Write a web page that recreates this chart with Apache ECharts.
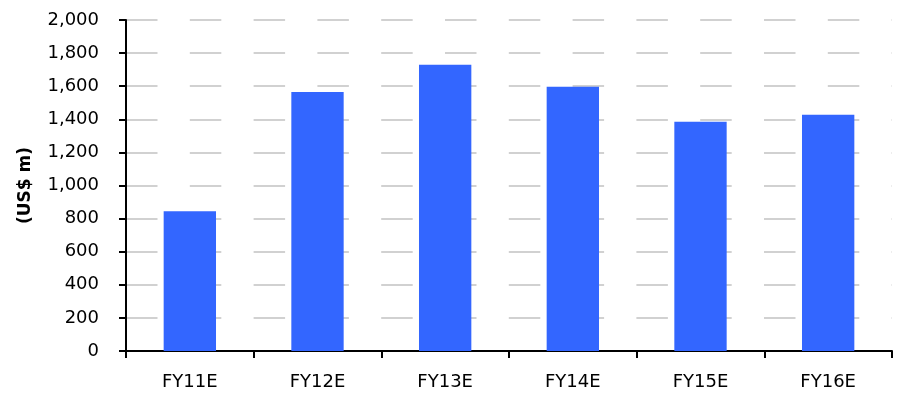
<!DOCTYPE html>
<html>
<head>
<meta charset="utf-8">
<script src="https://cdn.jsdelivr.net/npm/echarts@6/dist/echarts.min.js"></script>
<style>
  html, body { margin: 0; padding: 0; background: #fff; }
  #chart { width: 898px; height: 395px; }
</style>
</head>
<body>
<div id="chart"></div>
<script>
// fiscal years and values (US$ m)
const years = ["FY11E", "FY12E", "FY13E", "FY14E", "FY15E", "FY16E"];
const values = [845, 1565, 1730, 1597, 1385, 1427];
const yMin = 0, yMax = 2000, yStep = 200;

var chart = echarts.init(document.getElementById("chart"));
const font = "DejaVu Sans";

chart.setOption({
  animation: false,
  grid: { left: 126, right: 6, top: 20, bottom: 44 },
  xAxis: {
    type: "category",
    data: years,
    boundaryGap: true,
    axisLine: { lineStyle: { color: "#000", width: 2 } },
    axisTick: { show: true, length: 7, lineStyle: { color: "#000", width: 2 } },
    axisLabel: { color: "#000", fontFamily: font, fontSize: 18, margin: 22 },
  },
  yAxis: {
    type: "value",
    min: yMin,
    max: yMax,
    interval: yStep,
    name: "(US$ m)",
    nameLocation: "middle",
    nameGap: 92,
    nameTextStyle: { color: "#000", fontFamily: font, fontSize: 17, fontWeight: "bold" },
    axisLine: { show: true, lineStyle: { color: "#000", width: 2 } },
    axisTick: { show: true, length: 7, inside: false, lineStyle: { color: "#000", width: 2 } },
    axisLabel: {
      color: "#000",
      fontFamily: font,
      fontSize: 18,
      margin: 27,
      formatter: (v) => v.toLocaleString("en-US"),
    },
    splitLine: {
      show: true,
      lineStyle: { color: "#c2c2c2", width: 1.5, type: [31.5, 32.3], dashOffset: 0 },
    },
  },
  series: [
    {
      type: "bar",
      data: values,
      barWidth: "41%",
      itemStyle: { color: "#3366FF" },
    },
  ],
});
</script>
</body>
</html>
